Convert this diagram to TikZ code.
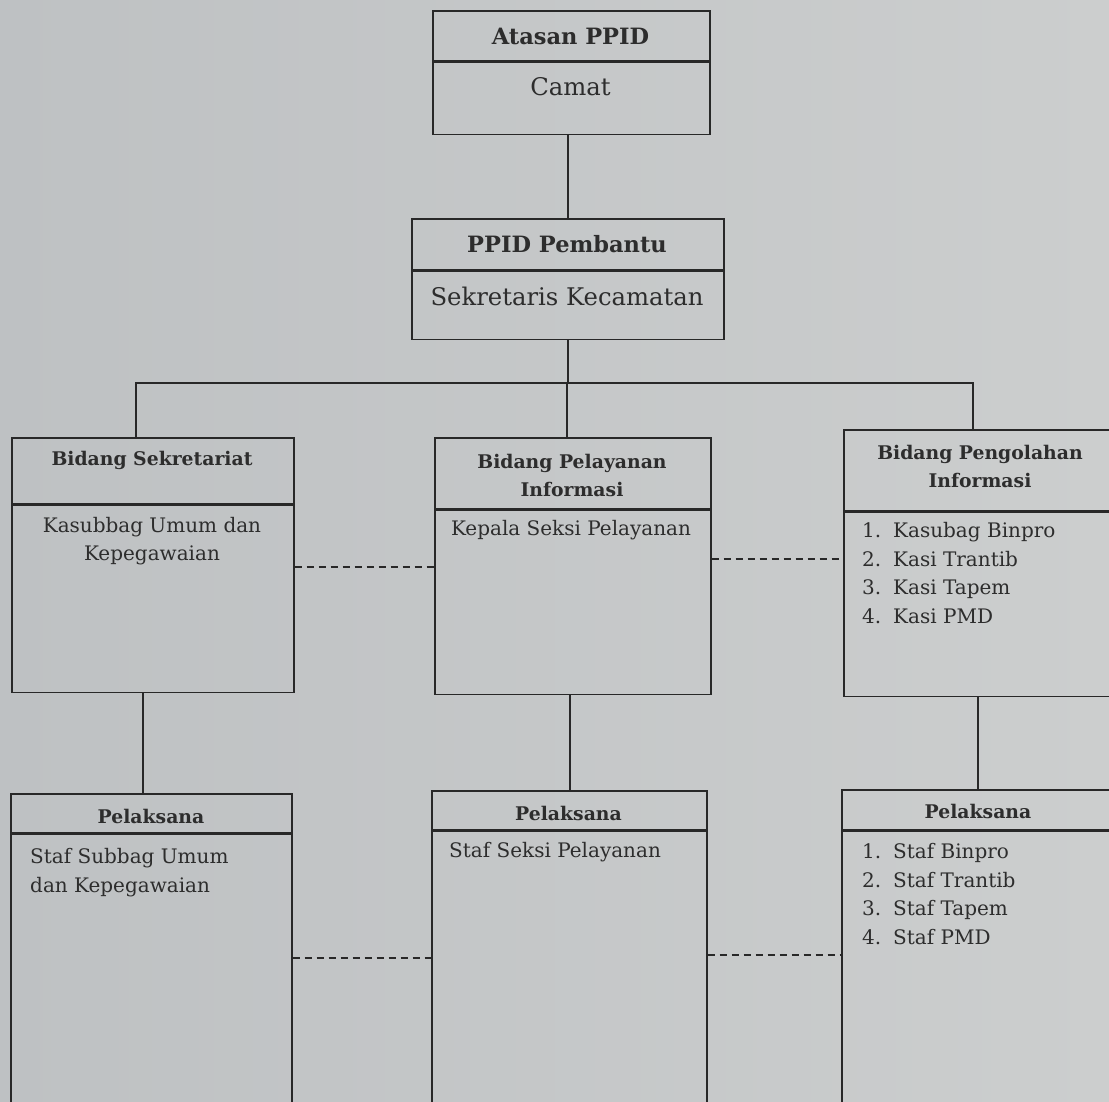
\documentclass[tikz,border=0pt]{standalone}
\usepackage{fontspec}
\setmainfont{DejaVu Serif}
\usetikzlibrary{calc}
\definecolor{bgL}{RGB}{190,193,195}
\definecolor{bgR}{RGB}{204,206,206}
\definecolor{linec}{RGB}{40,40,40}
\definecolor{txtc}{RGB}{45,45,45}
\tikzset{
  boxs/.style={draw=linec, line width=1.7pt, inner sep=0pt, anchor=north west},
  hd/.style={font=\bfseries\fontsize{18.8}{28}\selectfont, text=txtc, align=center, inner sep=0pt},
  hdbig/.style={font=\bfseries\fontsize{22.5}{28}\selectfont, text=txtc, align=center, inner sep=0pt},
  bd/.style={font=\fontsize{20}{28.7}\selectfont, text=txtc, inner sep=0pt},
  bdbig/.style={font=\fontsize{24.3}{30}\selectfont, text=txtc, inner sep=0pt},
  conn/.style={draw=linec, line width=1.7pt},
  dconn/.style={draw=linec, line width=1.5pt, dash pattern=on 7pt off 5pt},
}
\newcommand{\numit}[2]{\makebox[31pt][l]{#1}#2}
\begin{document}
\begin{tikzpicture}[x=1pt,y=-1pt]
\useasboundingbox (0,0) rectangle (1109,1101);
\shade[left color=bgL, right color=bgR] (0,0) rectangle (1109,1101);
\begin{scope}
\clip (0,0) rectangle (1109,1101);
% Atasan PPID
\node[boxs, minimum width=277pt, minimum height=50pt] (aH) at (432,10) {};
\node[boxs, minimum width=277pt, minimum height=72pt] (aB) at (aH.south west) {};
\node[hdbig] (aHt) at (570.5,36) {Atasan PPID};
\node[bdbig] (aBt) at (570.5,87) {Camat};
% PPID Pembantu
\node[boxs, minimum width=312pt, minimum height=51pt] (pH) at (411,218) {};
\node[boxs, minimum width=312pt, minimum height=68pt] (pB) at (pH.south west) {};
\node[hdbig] (pHt) at (567,244) {PPID Pembantu};
\node[bdbig] (pBt) at (567,296) {Sekretaris Kecamatan};
% Bidang Sekretariat
\node[boxs, minimum width=282pt, minimum height=66pt] (sH) at (11,437) {};
\node[boxs, minimum width=282pt, minimum height=187pt] (sB) at (sH.south west) {};
\node[hd] (sHt) at (152,460) {Bidang Sekretariat};
\node[bd, align=center] (sBt) at (152,541) {Kasubbag Umum dan\\Kepegawaian};
% Bidang Pelayanan Informasi
\node[boxs, minimum width=276pt, minimum height=71pt] (iH) at (434,437) {};
\node[boxs, minimum width=276pt, minimum height=184pt] (iB) at (iH.south west) {};
\node[hd] (iHt) at (572,475) {Bidang Pelayanan\\Informasi};
\node[bd] (iBt) at (571,530) {Kepala Seksi Pelayanan};
% Bidang Pengolahan Informasi
\node[boxs, minimum width=280pt, minimum height=81pt] (gH) at (843,429) {};
\node[boxs, minimum width=280pt, minimum height=184pt] (gB) at (gH.south west) {};
\node[hd] (gHt) at (980,466) {Bidang Pengolahan\\Informasi};
\node[bd, align=left, anchor=north west] (gBt) at (862,522) {\numit{1.}{Kasubag Binpro}\\\numit{2.}{Kasi Trantib}\\\numit{3.}{Kasi Tapem}\\\numit{4.}{Kasi PMD}};
% Pelaksana left
\node[boxs, minimum width=281pt, minimum height=39pt] (lH) at (10,793) {};
\node[boxs, minimum width=281pt, minimum height=300pt] (lB) at (lH.south west) {};
\node[hd] (lHt) at (151,816) {Pelaksana};
\node[bd, align=left, anchor=north west] (lBt) at (30,848) {Staf Subbag Umum\\dan Kepegawaian};
% Pelaksana middle
\node[boxs, minimum width=275pt, minimum height=39pt] (mH) at (431,790) {};
\node[boxs, minimum width=275pt, minimum height=300pt] (mB) at (mH.south west) {};
\node[hd] (mHt) at (568.5,813) {Pelaksana};
\node[bd, anchor=west] (mBt) at (449,852) {Staf Seksi Pelayanan};
% Pelaksana right
\node[boxs, minimum width=280pt, minimum height=40pt] (rH) at (841,789) {};
\node[boxs, minimum width=280pt, minimum height=300pt] (rB) at (rH.south west) {};
\node[hd] (rHt) at (978,811) {Pelaksana};
\node[bd, align=left, anchor=north west] (rBt) at (862,843) {\numit{1.}{Staf Binpro}\\\numit{2.}{Staf Trantib}\\\numit{3.}{Staf Tapem}\\\numit{4.}{Staf PMD}};
\end{scope}
% helper coordinates
\coordinate (bus) at (0,383);
\coordinate (xs) at (136,0);
\coordinate (xi) at (567,0);
\coordinate (xg) at (973,0);
\coordinate (xl) at (143,0);
\coordinate (xm) at (570,0);
\coordinate (xr) at (978,0);
\coordinate (dy1) at (0,567);
\coordinate (dy2) at (0,559);
\coordinate (dy3) at (0,958);
\coordinate (dy4) at (0,955);
% solid connectors
\draw[conn] (pH.north |- aB.south) -- (pH.north);
\draw[conn] (pB.south) -- (pB.south |- bus);
\draw[conn] (xs |- sH.north) -- (xs |- bus) -- (xg |- bus) -- (xg |- gH.north);
\draw[conn] (xi |- bus) -- (xi |- iH.north);
\draw[conn] (xl |- sB.south) -- (xl |- lH.north);
\draw[conn] (xm |- iB.south) -- (xm |- mH.north);
\draw[conn] (xr |- gB.south) -- (xr |- rH.north);
% dashed connectors
\draw[dconn] (sB.east |- dy1) -- (iB.west |- dy1);
\draw[dconn] (iB.east |- dy2) -- (gB.west |- dy2);
\draw[dconn] (lB.east |- dy3) -- (mB.west |- dy3);
\draw[dconn] (mB.east |- dy4) -- (rB.west |- dy4);
\end{tikzpicture}
\end{document}
